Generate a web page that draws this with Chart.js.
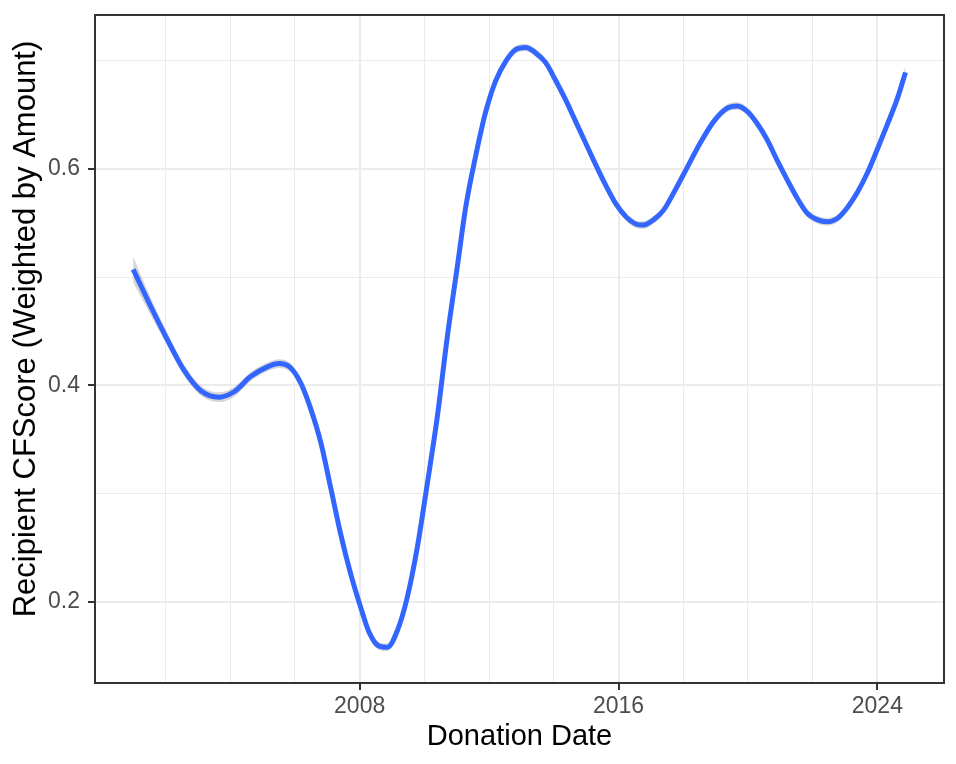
<!DOCTYPE html>
<html>
<head>
<meta charset="utf-8">
<script src="https://cdn.jsdelivr.net/npm/chart.js@4.4.1/dist/chart.umd.min.js"></script>
<style>
  html, body { margin: 0; padding: 0; background: #ffffff; }
  #wrap { width: 956px; height: 764px; position: relative; }
</style>
</head>
<body>
<div id="wrap"><canvas id="cfChart"></canvas></div>
<script>
// smoothed recipient CFScore
const years = [
  2001.00, 2001.54, 2002.06, 2002.57, 2003.09, 2003.65, 2004.12, 2004.63, 2005.15, 2005.51,
  2005.87, 2006.18, 2006.49, 2006.80, 2007.10, 2007.41, 2007.72, 2008.03, 2008.29, 2008.60,
  2008.86, 2009.16, 2009.47, 2009.78, 2010.09, 2010.40, 2010.71, 2011.02, 2011.28, 2011.58,
  2011.89, 2012.20, 2012.51, 2012.82, 2013.13, 2013.44, 2013.75, 2014.05, 2014.36, 2014.67,
  2014.98, 2015.29, 2015.60, 2015.91, 2016.22, 2016.53, 2016.76, 2017.09, 2017.40, 2017.71,
  2018.12, 2018.53, 2018.95, 2019.36, 2019.67, 2019.98, 2020.28, 2020.59, 2020.90, 2021.21,
  2021.52, 2021.83, 2022.14, 2022.45, 2022.76, 2023.07, 2023.38, 2023.69, 2024.00, 2024.31,
  2024.62, 2024.87
];
const cfscore = [
  0.507, 0.473, 0.442, 0.414, 0.395, 0.389, 0.394, 0.408, 0.417, 0.420,
  0.416, 0.402, 0.378, 0.347, 0.306, 0.263, 0.226, 0.195, 0.172, 0.159,
  0.158, 0.173, 0.204, 0.250, 0.309, 0.371, 0.445, 0.510, 0.565, 0.611,
  0.652, 0.681, 0.699, 0.710, 0.712, 0.707, 0.698, 0.682, 0.664, 0.644,
  0.624, 0.604, 0.585, 0.568, 0.556, 0.549, 0.548, 0.553, 0.562, 0.578,
  0.601, 0.624, 0.644, 0.656, 0.658, 0.653, 0.642, 0.627, 0.608, 0.590,
  0.573, 0.559, 0.553, 0.551, 0.554, 0.564, 0.578, 0.596, 0.618, 0.641,
  0.665, 0.689
];
// half width of the confidence ribbon at each point
const bandHalf = [
  0.012, 0.008, 0.006, 0.005, 0.0045, 0.0045, 0.0045, 0.004, 0.004, 0.004,
  0.004, 0.0035, 0.0035, 0.0035, 0.0035, 0.0035, 0.0035, 0.0035, 0.0035, 0.0035,
  0.0035, 0.0035, 0.0035, 0.0035, 0.0035, 0.0035, 0.0035, 0.0035, 0.0035, 0.0035,
  0.0035, 0.0035, 0.0035, 0.0035, 0.0035, 0.0035, 0.0035, 0.0035, 0.0035, 0.0035,
  0.0035, 0.0035, 0.0035, 0.0035, 0.0035, 0.0035, 0.0035, 0.0035, 0.0035, 0.0035,
  0.0035, 0.0035, 0.0035, 0.0035, 0.0035, 0.0035, 0.0035, 0.0035, 0.0035, 0.0035,
  0.0035, 0.0035, 0.0035, 0.0035, 0.0035, 0.0035, 0.0035, 0.004, 0.004, 0.0045,
  0.005, 0.006
];

const xGridYears = [2002, 2004, 2006, 2008, 2010, 2012, 2014, 2016, 2018, 2020, 2022, 2024];
const xTickYears = [2008, 2016, 2024];
const xTickLabels = ['2008', '2016', '2024'];
const yGridValues = [0.2, 0.3, 0.4, 0.5, 0.6, 0.7];
const yTickValues = [0.2, 0.4, 0.6];
const yTickLabels = ['0.2', '0.4', '0.6'];
const yTitle = 'Recipient CFScore (Weighted by Amount)';

const lineColor = '#3366FF';
const gridColor = '#EBEBEB';
const frameColor = '#333333';
const tickText = '#4D4D4D';
const fontFamily = '"Liberation Sans", Arial, Helvetica, sans-serif';

const isXMajor = v => xTickYears.indexOf(v) !== -1;
const isYMajor = v => yTickValues.some(t => Math.abs(t - v) < 1e-9);

const linePoints = years.map((x, i) => ({ x, y: cfscore[i] }));
const upperPoints = years.map((x, i) => ({ x, y: cfscore[i] + bandHalf[i] }));
const lowerPoints = years.map((x, i) => ({ x, y: cfscore[i] - bandHalf[i] }));

// ggplot-style panel border on all four sides, plus the y title
const panelBorder = {
  id: 'panelBorder',
  afterDraw(chart) {
    const { ctx, chartArea: a } = chart;
    ctx.save();
    ctx.strokeStyle = frameColor;
    ctx.lineWidth = 2;
    ctx.strokeRect(a.left, a.top, a.right - a.left, a.bottom - a.top);

    ctx.translate(35, 329);
    ctx.rotate(-Math.PI / 2);
    ctx.fillStyle = '#000000';
    ctx.font = '31px ' + fontFamily;
    ctx.textAlign = 'center';
    ctx.textBaseline = 'alphabetic';
    ctx.fillText(yTitle, 0, 0);
    ctx.restore();
  }
};

new Chart(document.getElementById('cfChart'), {
  type: 'line',
  data: {
    datasets: [
      {
        data: linePoints,
        borderColor: lineColor,
        borderWidth: 5,
        pointRadius: 0,
        cubicInterpolationMode: 'monotone',
        fill: false,
        order: 0
      },
      {
        data: upperPoints,
        borderWidth: 0,
        borderColor: 'rgba(0,0,0,0)',
        backgroundColor: 'rgba(153,153,153,0.4)',
        pointRadius: 0,
        cubicInterpolationMode: 'monotone',
        fill: '+1',
        order: 1
      },
      {
        data: lowerPoints,
        borderWidth: 0,
        borderColor: 'rgba(0,0,0,0)',
        pointRadius: 0,
        cubicInterpolationMode: 'monotone',
        fill: false,
        order: 2
      }
    ]
  },
  options: {
    responsive: true,
    maintainAspectRatio: false,
    animation: false,
    layout: { padding: { top: 15, right: 12, left: 0, bottom: 0 } },
    plugins: {
      legend: { display: false },
      tooltip: { enabled: false }
    },
    scales: {
      x: {
        type: 'linear',
        min: 1999.82,
        max: 2026.06,
        afterBuildTicks: scale => { scale.ticks = xGridYears.map(v => ({ value: v })); },
        afterFit: scale => {
          scale.height = 81;
          scale.paddingLeft = 0;
          scale.paddingRight = 0;
        },
        border: { display: false },
        grid: {
          color: gridColor,
          lineWidth: c => (isXMajor(c.tick.value) ? 2 : 1),
          tickLength: 7,
          tickWidth: 2,
          tickColor: c => (isXMajor(c.tick.value) ? frameColor : 'rgba(0,0,0,0)')
        },
        ticks: {
          autoSkip: false,
          maxRotation: 0,
          padding: 3,
          color: tickText,
          font: { family: fontFamily, size: 23 },
          callback: v => {
            const i = xTickYears.indexOf(v);
            return i === -1 ? '' : xTickLabels[i];
          }
        },
        title: {
          display: true,
          text: 'Donation Date',
          color: '#000000',
          font: { family: fontFamily, size: 29 },
          padding: { top: 0, bottom: 10 }
        }
      },
      y: {
        type: 'linear',
        min: 0.125,
        max: 0.742,
        afterBuildTicks: scale => { scale.ticks = yGridValues.map(v => ({ value: v })); },
        afterFit: scale => {
          scale.width = 95;
          scale.paddingTop = 0;
          scale.paddingBottom = 0;
        },
        border: { display: false },
        grid: {
          color: gridColor,
          lineWidth: c => (isYMajor(c.tick.value) ? 2 : 1),
          tickLength: 7,
          tickWidth: 2,
          tickColor: c => (isYMajor(c.tick.value) ? frameColor : 'rgba(0,0,0,0)')
        },
        ticks: {
          autoSkip: false,
          padding: 8,
          color: tickText,
          font: { family: fontFamily, size: 23 },
          callback: v => {
            const i = yTickValues.findIndex(t => Math.abs(t - v) < 1e-9);
            return i === -1 ? '' : yTickLabels[i];
          }
        },
        title: { display: false }
      }
    }
  },
  plugins: [panelBorder]
});
</script>
</body>
</html>
